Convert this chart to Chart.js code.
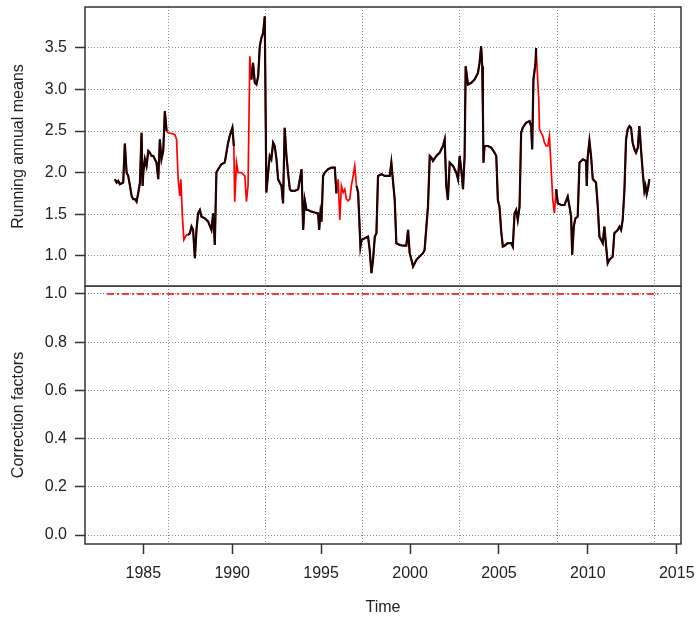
<!DOCTYPE html>
<html>
<head>
<meta charset="utf-8">
<script src="https://cdn.jsdelivr.net/npm/chart.js@4.4.1/dist/chart.umd.min.js"></script>
<style>
  body { margin: 0; background: #fff; }
  #wrap { position: relative; width: 697px; height: 619px; }
  canvas { position: absolute; left: 0; }
  #means { top: 0; }
  #corr { top: 286px; }
</style>
</head>
<body>
<div id="wrap">
  <canvas id="means" width="697" height="288"></canvas>
  <canvas id="corr" width="697" height="333"></canvas>
</div>
<script>
// running annual means
const years = [
  1983.40,1983.50,1983.59,1983.68,1983.87,1983.96,1984.06,1984.15,1984.25,1984.34,
  1984.43,1984.53,1984.62,1984.71,1984.81,1984.90,1984.96,1985.00,1985.09,1985.18,
  1985.28,1985.37,1985.46,1985.56,1985.65,1985.74,1985.84,1985.93,1986.02,1986.12,
  1986.21,1986.31,
  1986.40,1986.59,1986.77,1986.87,1986.96,1987.05,1987.11,1987.20,1987.28,1987.43,
  1987.52,1987.62,1987.71,1987.80,1987.90,1987.99,1988.08,1988.18,1988.27,1988.46,
  1988.65,1988.83,1988.93,1989.02,1989.11,1989.21,1989.39,1989.58,1989.77,1989.86,
  1990.01,1990.09,
  1990.14,1990.24,1990.33,1990.52,1990.71,1990.80,1990.89,1990.99,
  1991.08,1991.17,1991.27,1991.36,1991.46,1991.55,1991.64,1991.74,1991.83,1991.92,
  1992.02,1992.11,1992.20,1992.30,1992.39,1992.49,1992.58,1992.67,1992.77,1992.86,
  1992.95,1993.05,1993.14,1993.24,1993.33,1993.52,1993.71,1993.90,1993.99,1994.08,
  1994.18,1994.27,1994.46,1994.64,1994.83,1994.89,1994.96,1995.02,1995.11,1995.21,
  1995.39,1995.58,1995.77,1995.86,
  1995.96,1996.05,1996.14,1996.24,1996.33,1996.42,1996.52,1996.61,1996.70,1996.80,1996.89,
  1996.99,1997.08,1997.14,1997.21,1997.27,1997.45,1997.64,1997.73,1997.83,1997.92,
  1998.02,1998.11,1998.20,1998.39,1998.58,1998.76,1998.86,1998.95,1999.05,1999.14,
  1999.23,1999.42,1999.61,1999.79,1999.89,1999.98,2000.08,2000.17,2000.36,2000.54,
  2000.73,2000.82,2000.92,2001.01,2001.11,2001.20,2001.29,2001.48,2001.67,2001.85,
  2001.95,2002.04,2002.13,2002.23,2002.42,2002.60,2002.70,2002.79,2002.88,2002.98,
  2003.07,2003.13,2003.26,2003.45,2003.63,2003.82,2003.91,2004.00,2004.06,2004.10,
  2004.13,2004.19,2004.38,2004.57,2004.75,2004.85,2004.94,2005.03,2005.13,2005.22,
  2005.31,2005.50,2005.69,2005.78,2005.88,2005.97,2006.06,2006.16,2006.25,2006.34,
  2006.53,2006.72,2006.81,2006.87,2006.94,2007.06,2007.09,
  2007.19,2007.24,2007.28,2007.37,2007.47,2007.56,2007.66,2007.75,2007.84,2007.88,2007.94,2008.03,2008.12,
  2008.22,2008.31,2008.50,2008.69,2008.87,2008.97,2009.06,2009.12,2009.21,2009.30,
  2009.43,2009.53,2009.72,2009.90,2009.94,2009.99,2010.09,2010.18,2010.28,2010.46,
  2010.56,2010.65,2010.75,2010.84,2010.93,2011.03,2011.12,2011.21,2011.40,2011.49,
  2011.59,2011.68,2011.78,2011.87,2011.96,2012.06,2012.15,2012.24,2012.34,2012.43,
  2012.52,2012.62,2012.71,2012.81,2012.90,2012.99,2013.09,2013.18,2013.24,2013.31,
  2013.39,2013.46
];
const rawMeans = [
  1.92,1.88,1.90,1.86,1.88,2.35,2.00,1.96,1.84,1.72,
  1.68,1.68,1.65,1.75,1.88,2.48,1.84,2.00,2.16,2.08,
  2.26,2.24,2.20,2.20,2.16,2.12,1.92,2.40,2.16,2.26,
  2.74,2.50,
  2.48,2.47,2.46,2.40,1.92,1.72,1.92,1.47,1.19,1.25,
  1.25,1.27,1.35,1.31,0.97,1.31,1.51,1.55,1.47,1.45,
  1.41,1.31,1.51,1.13,2.00,2.04,2.10,2.12,2.36,2.44,
  2.54,2.32,
  1.65,2.12,2.00,2.00,1.96,1.65,1.84,3.40,
  3.12,3.32,3.08,3.06,3.16,3.52,3.62,3.68,3.88,1.76,
  2.00,2.20,2.16,2.36,2.32,2.16,1.92,1.88,1.84,1.63,
  2.54,2.20,2.00,1.80,1.78,1.78,1.80,2.04,1.31,1.67,
  1.55,1.55,1.53,1.52,1.51,1.31,1.51,1.41,1.96,2.00,
  2.04,2.06,2.06,1.75,
  1.92,1.43,1.84,1.76,1.80,1.68,1.66,1.68,1.84,1.96,2.08,
  1.84,1.76,1.47,1.11,1.19,1.21,1.23,1.07,0.79,0.95,
  1.23,1.27,1.96,1.98,1.96,1.96,1.96,2.12,1.88,1.67,
  1.15,1.13,1.12,1.12,1.31,1.03,0.95,0.87,0.95,0.99,
  1.03,1.07,1.35,1.59,2.20,2.18,2.14,2.20,2.24,2.32,
  2.40,1.84,1.67,2.12,2.08,2.00,1.92,2.20,2.04,1.80,
  2.20,3.28,3.06,3.08,3.12,3.20,3.32,3.52,3.28,2.72,
  2.12,2.32,2.32,2.30,2.24,2.20,1.67,1.59,1.29,1.11,
  1.12,1.15,1.15,1.11,1.51,1.55,1.43,1.59,2.48,2.54,
  2.60,2.62,2.56,2.28,3.12,3.32,3.50,
  3.08,2.88,2.52,2.48,2.44,2.36,2.32,2.32,2.44,2.28,2.04,1.67,1.51,
  1.80,1.63,1.61,1.61,1.71,1.59,1.47,1.01,1.35,1.45,
  1.47,2.12,2.16,2.14,1.84,2.18,2.38,2.20,1.92,1.88,
  1.59,1.23,1.19,1.15,1.35,1.11,0.91,0.95,0.99,1.27,
  1.29,1.31,1.35,1.31,1.43,1.80,2.40,2.52,2.56,2.54,
  2.36,2.28,2.24,2.30,2.56,2.28,2.00,1.78,1.84,1.74,
  1.82,1.92
];
// periods where only the red (uncorrected) line shows
const redSpans = [[1986.35, 1987.47], [1990.11, 1991.03], [1995.90, 1996.94], [2007.14, 2008.17]];

const corrYears = [1982.96, 2013.95];
const corrFactors = [1.0, 1.0];

const xTicks = [1985, 1990, 1995, 2000, 2005, 2010, 2015];
const gridYears = [1986.40, 1991.86, 1997.32, 2002.79, 2008.27, 2013.75];
const meanTicks = [1.0, 1.5, 2.0, 2.5, 3.0, 3.5];
const corrTicks = [0.0, 0.2, 0.4, 0.6, 0.8, 1.0];

const X_MIN = 1981.72, X_MAX = 2015.24;

const adjMeans = rawMeans.map((v, i) =>
  redSpans.some(s => years[i] > s[0] && years[i] < s[1]) ? null : v);

Chart.defaults.font.family = "'Liberation Sans', Arial, sans-serif";
Chart.defaults.font.size = 16;
Chart.defaults.color = "#222";

function setTicks(values) {
  return scale => { scale.ticks = values.map(v => ({ value: v })); };
}
function fixSize(w, h) {
  return scale => {
    if (w !== null) scale.width = w;
    if (h !== null) scale.height = h;
    scale.paddingTop = 0; scale.paddingBottom = 0;
    scale.paddingLeft = 0; scale.paddingRight = 0;
  };
}

const framePlugin = {
  id: "frame",
  afterDraw(chart) {
    const { ctx, chartArea: a } = chart;
    ctx.save();
    ctx.strokeStyle = "#333";
    ctx.lineWidth = 1.5;
    ctx.strokeRect(a.left, a.top, a.right - a.left, a.bottom - a.top);
    ctx.restore();
  },
};

// grid lines: grey dots (v4 takes the grid dash from border.dash)
const dottedBorder = { display: false, dash: [1, 2] };

function gridAxis() {
  return {
    type: "linear", position: "top", min: X_MIN, max: X_MAX,
    afterBuildTicks: setTicks(gridYears),
    afterFit: fixSize(null, 0),
    ticks: { display: false },
    grid: { color: "#8a8a8a", lineWidth: 1, drawTicks: false },
    border: dottedBorder,
  };
}

function yAxis(min, max, ticks, title) {
  return {
    type: "linear", position: "left", min: min, max: max,
    afterBuildTicks: setTicks(ticks),
    afterFit: fixSize(85, null),
    ticks: { padding: 8, callback: v => v.toFixed(1) },
    grid: { color: "#8a8a8a", lineWidth: 1, tickLength: 10, tickColor: "#333", tickWidth: 1.5, tickBorderDash: [] },
    border: dottedBorder,
    title: { display: true, text: title, padding: { top: 9, bottom: 0 } },
  };
}

const common = {
  responsive: false,
  devicePixelRatio: 1,
  animation: false,
  events: [],
  plugins: { legend: { display: false }, tooltip: { enabled: false } },
  elements: { point: { radius: 0 }, line: { tension: 0 } },
};

new Chart(document.getElementById("means"), {
  type: "line",
  data: {
    datasets: [
      {
        data: years.map((x, i) => ({ x: x, y: adjMeans[i] })),
        borderColor: "#1c0202",
        borderWidth: 2.2,
        spanGaps: false,
        order: 0,
      },
      {
        data: years.map((x, i) => ({ x: x, y: rawMeans[i] })),
        borderColor: "#ff0000",
        borderWidth: 1.7,
        order: 1,
      },
    ],
  },
  options: {
    ...common,
    layout: { padding: { left: 0, right: 16, top: 7, bottom: 2 } },
    scales: {
      x: { type: "linear", min: X_MIN, max: X_MAX, display: false },
      xg: gridAxis(),
      y: yAxis(0.635, 3.993, meanTicks, "Running annual means"),
    },
  },
  plugins: [framePlugin],
});

new Chart(document.getElementById("corr"), {
  type: "line",
  data: {
    datasets: [
      {
        data: corrYears.map((x, i) => ({ x: x, y: corrFactors[i] })),
        borderColor: "#ff0000",
        borderWidth: 1.5,
        borderDash: [7, 3, 2, 3],
      },
    ],
  },
  options: {
    ...common,
    layout: { padding: { left: 0, right: 16, top: 0, bottom: 0 } },
    scales: {
      x: {
        type: "linear", position: "bottom", min: X_MIN, max: X_MAX,
        afterBuildTicks: setTicks(xTicks),
        afterFit: fixSize(null, 75),
        ticks: { autoSkip: false, maxRotation: 0, padding: 10, callback: v => String(v) },
        grid: { drawOnChartArea: false, tickLength: 10, color: "#333", tickWidth: 1.5 },
        border: { display: false },
        title: { display: true, text: "Time", padding: { top: 0, bottom: 2 } },
      },
      xg: gridAxis(),
      y: yAxis(-0.037, 1.033, corrTicks, "Correction factors"),
    },
  },
  plugins: [framePlugin],
});
</script>
</body>
</html>
